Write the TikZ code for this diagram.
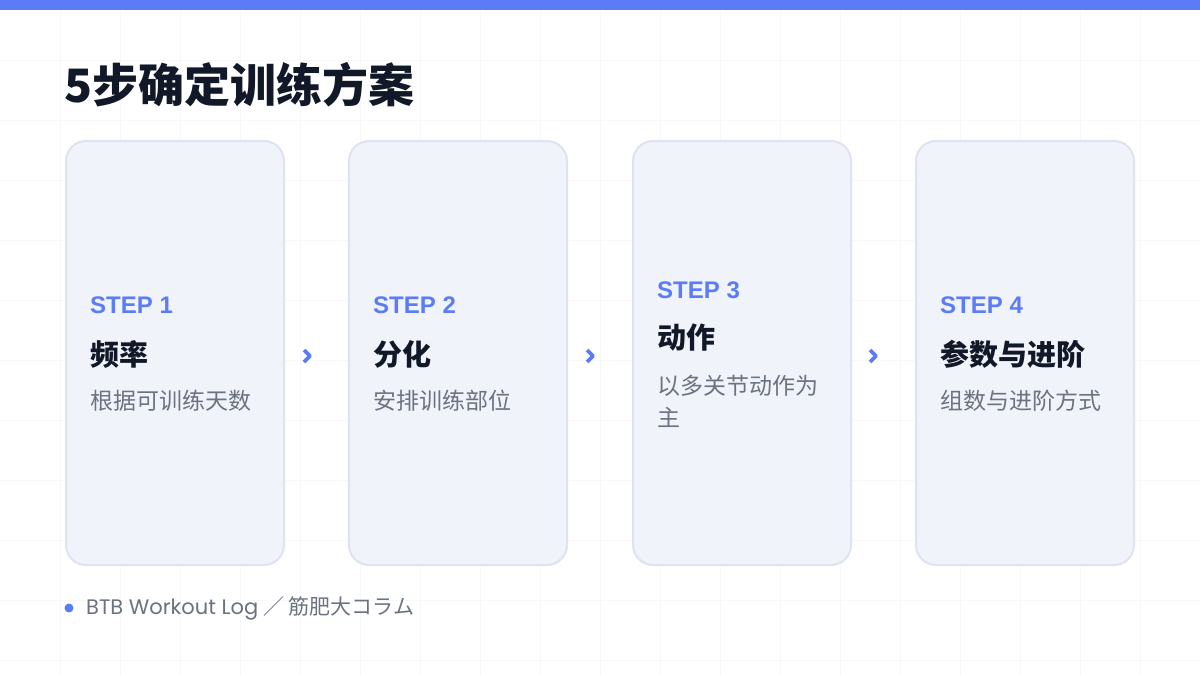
\documentclass[tikz,border=0pt]{standalone}
\usepackage{fontspec}
\setmainfont{Noto Sans CJK SC}
\newfontfamily\jpfont{Noto Sans CJK JP}
\newfontfamily\latinfont{Liberation Sans}
\newfontfamily\footfont{Poppins}
\definecolor{accent}{HTML}{5B7CF6}
\definecolor{ink}{HTML}{111827}
\definecolor{muted}{HTML}{6B7280}
\definecolor{cardfill}{HTML}{F1F3FB}
\definecolor{cardline}{HTML}{DEE3EF}
\definecolor{gridline}{HTML}{F7F8FA}
\tikzset{
  card/.style={draw=cardline, line width=2pt, fill=cardfill, rounded corners=20pt,
    minimum width=218pt, minimum height=424pt, inner sep=0pt},
  steplabel/.style={anchor=west, inner sep=0pt, text=accent,
    font=\latinfont\bfseries\fontsize{24}{24}\selectfont},
  steptitle/.style={anchor=west, inner sep=0pt, text=ink,
    font=\bfseries\fontsize{29}{29}\selectfont},
  stepnote/.style={anchor=west, inner sep=0pt, text=muted, align=left,
    font=\fontsize{23}{32}\selectfont},
  chev/.style={draw=accent, line width=3.6pt, line join=round}
}
\begin{document}
\begin{tikzpicture}[x=1pt,y=-1pt]
        \useasboundingbox (0,0) rectangle (1200,675);
        %% background grid and top bar
        \fill[white] (0,0) rectangle (1200,675);
        \foreach \gx in {60,120,...,1140} \draw[gridline, line width=1pt] (\gx,0) -- (\gx,675);
        \foreach \gy in {60,120,...,660} \draw[gridline, line width=1pt] (0,\gy) -- (1200,\gy);
        \fill[accent] (0,0) rectangle (1200,10);
        %% title
        \node[anchor=west, inner sep=0pt, text=ink, font=\bfseries\fontsize{46}{46}\selectfont] (title) at (64,85) {5步确定训练方案};
        %% cards
        \node[card] (card1) at (175,353) {};
        \node[card] (card2) at (458,353) {};
        \node[card] (card3) at (742,353) {};
        \node[card] (card4) at (1025,353) {};
        %% step 1
        \node[steplabel] (step1) at (90,305) {STEP 1};
        \node[steptitle] (head1) at (90,354) {频率};
        \node[stepnote] (note1) at (90,401) {根据可训练天数};
        %% step 2
        \node[steplabel] (step2) at (373,305) {STEP 2};
        \node[steptitle] (head2) at (373,354) {分化};
        \node[stepnote] (note2) at (373,401) {安排训练部位};
        %% step 3
        \node[steplabel] (step3) at (657,290) {STEP 3};
        \node[steptitle] (head3) at (657,338) {动作};
        \node[stepnote] (note3) at (657,401) {以多关节动作为\\主};
        %% step 4
        \node[steplabel] (step4) at (940,305) {STEP 4};
        \node[steptitle] (head4) at (940,354) {参数与进阶};
        \node[stepnote] (note4) at (940,401) {组数与进阶方式};
        %% chevrons between cards
        \coordinate (chev1) at (307,356);
        \coordinate (chev2) at (590,356);
        \coordinate (chev3) at (873,356);
        \draw[chev] ([shift={(-3,-6)}]chev1) -- ([shift={(3,0)}]chev1) -- ([shift={(-3,6)}]chev1);
        \draw[chev] ([shift={(-3,-6)}]chev2) -- ([shift={(3,0)}]chev2) -- ([shift={(-3,6)}]chev2);
        \draw[chev] ([shift={(-3,-6)}]chev3) -- ([shift={(3,0)}]chev3) -- ([shift={(-3,6)}]chev3);
        %% footer
        \fill[accent] (69,608) circle (4.5);
        \node[anchor=west, inner sep=0pt, text=muted, font=\fontsize{21}{21}\selectfont] (footer) at (86,608) {{\footfont BTB Workout Log} ／ {\jpfont 筋肥大コラム}};
    \end{tikzpicture}
\end{document}
